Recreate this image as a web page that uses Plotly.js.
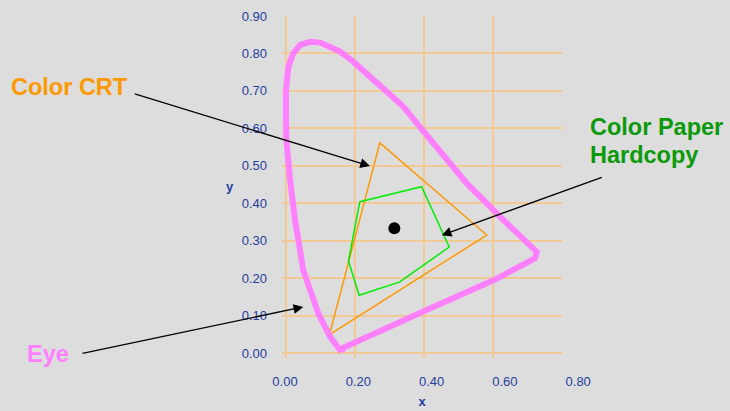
<!DOCTYPE html>
<html>
<head>
<meta charset="utf-8">
<script src="https://cdn.plot.ly/plotly-3.0.1.min.js"></script>
<style>html,body{margin:0;padding:0;background:#dddddd;}#chart{width:730px;height:411px;}</style>
</head>
<body>
<div id="chart"></div>
<script>
// Spectral locus ("Eye")
const locusX = [0.161,0.128,0.094,0.070,0.050,0.036,0.026,0.012,0.001,0.000,0.000,0.007,0.021,0.041,0.070,0.099,0.128,0.157,0.195,0.243,0.292,0.340,0.388,0.437,0.524,0.620,0.727,0.722,0.601,0.417,0.166,0.161];
const locusY = [0.003,0.043,0.105,0.168,0.221,0.301,0.355,0.462,0.569,0.622,0.700,0.765,0.800,0.823,0.831,0.829,0.818,0.805,0.778,0.738,0.702,0.658,0.604,0.551,0.453,0.364,0.270,0.253,0.194,0.119,0.014,0.003];
// Color CRT gamut
const crtX = [0.126,0.272,0.582,0.126];
const crtY = [0.049,0.561,0.315,0.049];
// Color paper hardcopy gamut
const paperX = [0.214,0.393,0.473,0.330,0.212,0.181,0.214];
const paperY = [0.404,0.444,0.283,0.190,0.154,0.246,0.404];
// White point
const whiteX = [0.314];
const whiteY = [0.333];
// Tick labels
const xTicks = [0,0.2,0.4,0.6,0.8];
const xTickText = ['0.00','0.20','0.40','0.60','0.80'];
const yTicks = [0,0.1,0.2,0.3,0.4,0.5,0.6,0.7,0.8,0.9];

const FONT = 'Arial, "Liberation Sans", sans-serif';
const GRID = '#f2c995';
const TICKC = '#1f40a0';

const traces = [
  {x: crtX, y: crtY, mode: 'lines', line: {color: '#ff9900', width: 1.5}, hoverinfo: 'skip'},
  {x: paperX, y: paperY, mode: 'lines', line: {color: '#00ee00', width: 1.5}, hoverinfo: 'skip'},
  {x: locusX, y: locusY, mode: 'lines', line: {color: '#ff80ff', width: 6}, hoverinfo: 'skip'},
  {x: whiteX, y: whiteY, mode: 'markers', marker: {color: '#000000', size: 12}, hoverinfo: 'skip'},
  {x: [], y: [], xaxis: 'x2', yaxis: 'y2', mode: 'markers', hoverinfo: 'skip'}
];

const arrowBase = {axref: 'x', ayref: 'y', xref: 'x', yref: 'y', text: '', showarrow: true,
  arrowhead: 2, arrowsize: 1.5, arrowwidth: 1.3, arrowcolor: '#000000', standoff: 0};
const labelBase = {xref: 'paper', yref: 'paper', xanchor: 'left', yanchor: 'middle', showarrow: false};

const layout = {
  width: 730, height: 411,
  margin: {l: 270, r: 140, t: 16, b: 53, pad: 0},
  paper_bgcolor: '#dddddd',
  plot_bgcolor: 'rgba(0,0,0,0)',
  showlegend: false,
  font: {family: FONT, color: TICKC, size: 13},
  xaxis: {
    domain: [0.0375, 0.9125], range: [-0.0116, 0.8],
    tickvals: xTicks, showticklabels: false, ticks: '',
    showgrid: true, gridcolor: GRID, gridwidth: 2, zeroline: false, showline: false,
    title: {text: '<b>x</b>', font: {family: FONT, size: 13, color: TICKC}, standoff: 38}
  },
  yaxis: {
    domain: [0, 1], range: [-0.0134, 0.9],
    tickvals: yTicks, tickformat: '.2f', ticks: '',
    showgrid: true, gridcolor: GRID, gridwidth: 2, zeroline: false, showline: false,
    ticklabelstandoff: 14,
    tickfont: {family: FONT, size: 13, color: TICKC}
  },
  xaxis2: {
    domain: [0, 1], range: [-0.04093, 0.8322], anchor: 'y2',
    tickvals: xTicks, ticktext: xTickText, ticks: '',
    showgrid: false, zeroline: false, showline: false,
    ticklabelstandoff: 14,
    tickfont: {family: FONT, size: 13, color: TICKC}
  },
  yaxis2: {domain: [0, 1], range: [0, 1], anchor: 'x2', visible: false},
  annotations: [
    Object.assign({}, arrowBase, {x: 0.2435, y: 0.4991, ax: -0.4426, ay: 0.6934}),
    Object.assign({}, arrowBase, {x: 0.4513, y: 0.3146, ax: 0.9197, ay: 0.4705}),
    Object.assign({}, arrowBase, {x: 0.0501, y: 0.1230, ax: -0.5942, ay: -0.0016}),
    Object.assign({}, labelBase, {x: -0.8156, y: 0.7918, text: '<b>Color CRT</b>',
      font: {family: FONT, size: 23.5, color: '#ff9900'}}),
    Object.assign({}, labelBase, {x: 0.9947, y: 0.6763, text: '<b>Color Paper</b>',
      font: {family: FONT, size: 23.5, color: '#0a9a0a'}}),
    Object.assign({}, labelBase, {x: 0.9947, y: 0.5944, text: '<b>Hardcopy</b>',
      font: {family: FONT, size: 23.5, color: '#0a9a0a'}}),
    Object.assign({}, labelBase, {x: -0.7656, y: 0.0108, text: '<b>Eye</b>',
      font: {family: FONT, size: 23.5, color: '#ff80ff'}}),
    Object.assign({}, labelBase, {x: -0.125, y: 0.5029, xanchor: 'center', text: '<b>y</b>',
      font: {family: FONT, size: 13, color: TICKC}})
  ]
};

Plotly.newPlot('chart', traces, layout, {displayModeBar: false, staticPlot: true});
</script>
</body>
</html>
